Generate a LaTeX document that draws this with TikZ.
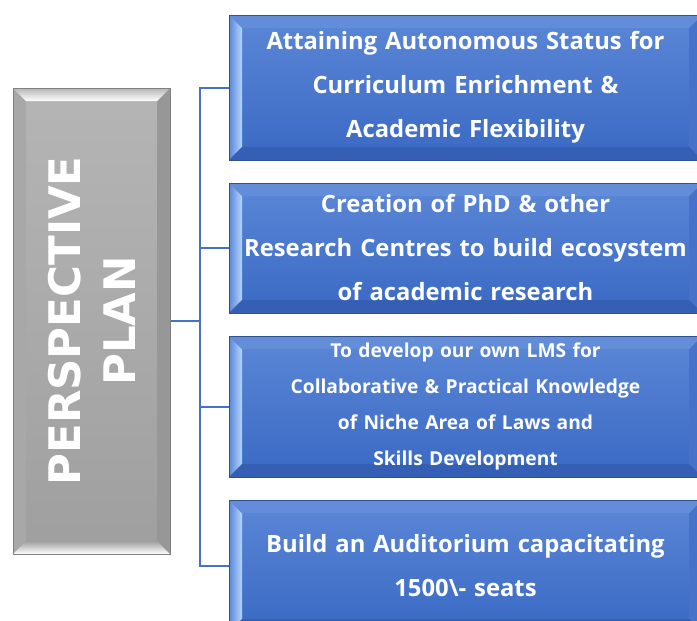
\documentclass[tikz,border=0pt]{standalone}
\usepackage{fontspec}
\usepackage{tikz}
\usetikzlibrary{positioning}

\newfontfamily\goalfont{Open Sans}
\newfontfamily\titlefont{DejaVu Sans}

\definecolor{linkblue}{HTML}{4472C4}
\definecolor{goalborder}{HTML}{2F528F}
\definecolor{goaltop}{HTML}{5B87D6}
\definecolor{goalbottom}{HTML}{3A69C4}
\definecolor{goalhigh}{HTML}{B4D6FF}
\definecolor{goalright}{HTML}{4673C9}
\definecolor{goaldark}{HTML}{345FB4}
\definecolor{planborder}{HTML}{808080}
\definecolor{plantop}{HTML}{B5B5B5}
\definecolor{planbottom}{HTML}{9F9F9F}
\definecolor{planside}{HTML}{A8A8A8}

\def\B{13pt} % ширина фаски

\tikzset{
	% соединительные линии
	link/.style={draw=linkblue, line width=2pt},
	% серый блок слева
	plan/.style={draw=planborder, line width=1pt, top color=plantop,
		bottom color=planbottom, minimum width=157pt, minimum height=466pt,
		inner sep=0pt,
		path picture={
			\coordinate (bsw) at (path picture bounding box.south west);
			\coordinate (bnw) at (path picture bounding box.north west);
			\coordinate (bne) at (path picture bounding box.north east);
			\coordinate (bse) at (path picture bounding box.south east);
			\fill[planside] (bsw) -- (bnw) -- ([shift={(\B,-\B)}]bnw) -- ([shift={(\B,\B)}]bsw) -- cycle;
			\fill[planside!90!black] (bse) -- (bne) -- ([shift={(-\B,-\B)}]bne) -- ([shift={(-\B,\B)}]bse) -- cycle;
			\shade[top color=plantop, bottom color=white] (bnw) -- (bne) -- ([shift={(-\B,-\B)}]bne) -- ([shift={(\B,-\B)}]bnw) -- cycle;
			\shade[top color=planbottom, bottom color=white] (bsw) -- (bse) -- ([shift={(-\B,\B)}]bse) -- ([shift={(\B,\B)}]bsw) -- cycle;
		}},
	plantitle/.style={rotate=90, text=white, align=center,
		font=\titlefont\bfseries\fontsize{43.5}{55}\selectfont},
	% синие блоки справа
	goal/.style={draw=goalborder, line width=1pt, top color=goaltop,
		bottom color=goalbottom, text=white, align=center, inner sep=0pt,
		minimum width=473pt, text width=460pt,
		font=\goalfont\bfseries\fontsize{23.8}{44}\selectfont,
		path picture={
			\coordinate (bsw) at (path picture bounding box.south west);
			\coordinate (bnw) at (path picture bounding box.north west);
			\coordinate (bne) at (path picture bounding box.north east);
			\coordinate (bse) at (path picture bounding box.south east);
			\shade[left color=goaltop, right color=goalhigh] (bsw) -- (bnw) -- ([shift={(\B,-\B)}]bnw) -- ([shift={(\B,\B)}]bsw) -- cycle;
			\fill[goalright] (bse) -- (bne) -- ([shift={(-\B,-\B)}]bne) -- ([shift={(-\B,\B)}]bse) -- cycle;
			\fill[goaltop!95!white] (bnw) -- (bne) -- ([shift={(-\B,-\B)}]bne) -- ([shift={(\B,-\B)}]bnw) -- cycle;
			\fill[goaldark] (bsw) -- (bse) -- ([shift={(-\B,\B)}]bse) -- ([shift={(\B,\B)}]bsw) -- cycle;
		}},
	small/.style={font=\goalfont\bfseries\fontsize{19.2}{36}\selectfont}
}

\begin{document}
\begin{tikzpicture}[x=1pt, y=-1pt]
	% обрезаем по размеру рисунка
	\clip (0,0) rectangle (697,621);

	% серый блок
	\node[plan] (plan) at (91.5,321) {};
	\node[plantitle] (title) at (plan.center) {PERSPECTIVE\\PLAN};

	% цели
	\node[goal, minimum height=145pt] (goalA) at (465.5,87.5)
		{Attaining Autonomous Status for\\Curriculum Enrichment \&\\Academic Flexibility};
	\node[goal, minimum height=130pt, below=22pt of goalA] (goalB)
		{Creation of PhD \& other\\Research Centres to build ecosystem\\of academic research};
	\node[goal, small, minimum height=141pt, below=22pt of goalB] (goalC)
		{To develop our own LMS for\\Collaborative \& Practical Knowledge\\of Niche Area of Laws and\\Skills Development};
	\node[goal, minimum height=132pt, below=22pt of goalC] (goalD)
		{Build an Auditorium capacitating\\1500\textbackslash- seats};

	% связи
	\coordinate (trunk) at (200,321);
	\draw[link] (plan.east) -- (trunk);
	\draw[link] (goalA.west) -| (trunk);
	\draw[link] (goalB.west) -| (trunk);
	\draw[link] (goalC.west) -| (trunk);
	\draw[link] (goalD.west) -| (trunk);
\end{tikzpicture}
\end{document}
